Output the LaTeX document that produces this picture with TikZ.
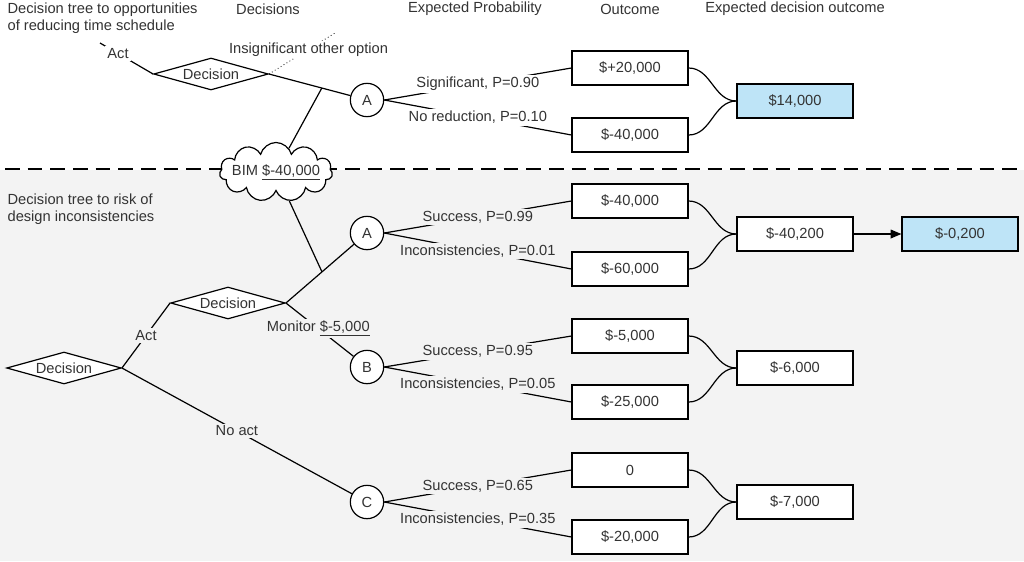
\documentclass[tikz,border=0pt]{standalone}
\usepackage{fontspec}
\setmainfont{Liberation Sans}
\usetikzlibrary{shapes.geometric,shapes.symbols,arrows.meta}
\definecolor{bggray}{HTML}{F3F3F3}
\definecolor{outblue}{HTML}{BEE4F7}
\definecolor{txtgray}{HTML}{333333}

\begin{document}
\begin{tikzpicture}[x=0.75pt, y=-0.75pt, line width=0.9pt,
  font=\fontsize{11}{12.5}\selectfont, text=txtgray,
  dec/.style={diamond, draw, fill=white, aspect=3.6, inner sep=0pt, minimum width=86pt, minimum height=24pt},
  chance/.style={circle, draw, fill=white, inner sep=0pt, minimum size=25pt},
  val/.style={rectangle, draw, fill=white, inner sep=0pt, minimum width=87pt, minimum height=25.5pt},
  res/.style={val, fill=outblue},
  lbl/.style={fill=white, inner sep=1.5pt},
  lblg/.style={fill=bggray, inner sep=1.5pt}]

\useasboundingbox (0,0) rectangle (1024,561);
\fill[white] (0,0) rectangle (1024,170);
\fill[bggray] (0,170) rectangle (1024,561);
\draw[dash pattern=on 11pt off 6pt] (5,169) -- (1024,169);

% headings
\node[align=left, anchor=west, inner sep=0pt] (title1) at (7,18.5) {Decision tree to opportunities\\of reducing time schedule};
\node[align=left, anchor=west, inner sep=0pt] (title2) at (7,209) {Decision tree to risk of\\design inconsistencies};
\node (hdec) at (268,9) {Decisions};
\node (hprob) at (475,9) {Expected Probability};
\node (hout) at (630,9) {Outcome};
\node (hexp) at (795,9) {Expected decision outcome};

% reducing time schedule
\node[dec] (d1) at (211,74) {Decision};
\node[chance] (a1) at (367,100) {A};
\node[cloud, draw, fill=white, cloud puffs=11, cloud ignores aspect, inner xsep=-4pt, inner ysep=4pt] (bim) at (276,172) {BIM \underline{\$-40,000}};
\coordinate (act1) at (100,43);
\coordinate (other) at (335,33);
\draw (d1.west) -- node[lbl, pos=0.66]{Act} (act1);
\draw[dotted, line width=0.6pt] (d1.east) -- node[lbl, pos=0.6]{Insignificant other option} (other);
\draw (d1.east) -- coordinate[pos=0.65] (j1) (a1);
\draw (j1) -- (bim);

\node[val] (o1) at (630,68) {\$+20,000};
\node[val] (o2) at (630,135) {\$-40,000};
\node[res] (r1) at (795,101) {\$14,000};
\draw (a1.east) -- node[lbl]{Significant, P=0.90} (o1.west);
\draw (a1.east) -- node[lbl]{No reduction, P=0.10} (o2.west);
\draw (o1.east) to[out=0, in=180] (r1.west);
\draw (o2.east) to[out=0, in=180] (r1.west);

% design inconsistencies
\node[dec] (d3) at (64,368) {Decision};
\node[dec] (d2) at (228,303) {Decision};
\node[chance] (a2) at (367,233) {A};
\node[chance] (b) at (367,367) {B};
\node[chance] (c) at (367,502) {C};
\draw (d3.east) -- node[lblg]{Act} (d2.west);
\draw (d3.east) -- node[lblg, pos=0.5]{No act} (c);
\draw (d2.east) -- coordinate[pos=0.53] (j2) (a2);
\draw (d2.east) -- node[lblg, pos=0.48]{Monitor \underline{\$-5,000}} (b);
\draw (bim) -- (j2);

\node[val] (o3) at (630,201) {\$-40,000};
\node[val] (o4) at (630,269) {\$-60,000};
\node[val] (r2) at (795,234) {\$-40,200};
\node[res] (r5) at (960,234) {\$-0,200};
\draw (a2.east) -- node[lblg]{Success, P=0.99} (o3.west);
\draw (a2.east) -- node[lblg]{Inconsistencies, P=0.01} (o4.west);
\draw (o3.east) to[out=0, in=180] (r2.west);
\draw (o4.east) to[out=0, in=180] (r2.west);
\draw[-{Triangle[length=8pt, width=6.5pt]}] (r2) -- (r5);

\node[val] (o5) at (630,336) {\$-5,000};
\node[val] (o6) at (630,402) {\$-25,000};
\node[val] (r3) at (795,368) {\$-6,000};
\draw (b.east) -- node[lblg]{Success, P=0.95} (o5.west);
\draw (b.east) -- node[lblg]{Inconsistencies, P=0.05} (o6.west);
\draw (o5.east) to[out=0, in=180] (r3.west);
\draw (o6.east) to[out=0, in=180] (r3.west);

\node[val] (o7) at (630,470) {0};
\node[val] (o8) at (630,537) {\$-20,000};
\node[val] (r4) at (795,502) {\$-7,000};
\draw (c.east) -- node[lblg]{Success, P=0.65} (o7.west);
\draw (c.east) -- node[lblg]{Inconsistencies, P=0.35} (o8.west);
\draw (o7.east) to[out=0, in=180] (r4.west);
\draw (o8.east) to[out=0, in=180] (r4.west);
\end{tikzpicture}
\end{document}
